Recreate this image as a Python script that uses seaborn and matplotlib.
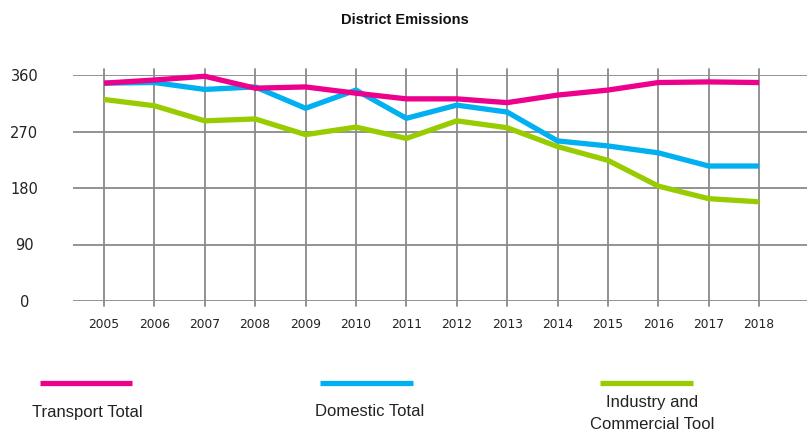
import matplotlib
matplotlib.use("Agg")
import matplotlib.pyplot as plt
from matplotlib.lines import Line2D
import pandas as pd
import seaborn as sns

years = [2005, 2006, 2007, 2008, 2009, 2010, 2011, 2012, 2013, 2014, 2015, 2016, 2017, 2018]
transport = [347, 352, 358, 339, 341, 331, 322, 322, 316, 328, 336, 348, 349, 348]
domestic = [347, 348, 337, 341, 307, 336, 291, 312, 301, 255, 247, 236, 215, 215]
industry = [321, 311, 287, 290, 265, 277, 259, 287, 276, 246, 224, 183, 163, 158]
series_names = ["Transport Total", "Domestic Total", "Industry and\nCommercial Tool"]
colors = ["#EC008C", "#00B0F0", "#99CC00"]
y_ticks = [0, 90, 180, 270, 360]

df = pd.DataFrame({
    "year": years * 3,
    "value": transport + domestic + industry,
    "series": [series_names[0]] * len(years) + [series_names[1]] * len(years) + [series_names[2]] * len(years),
})

sns.set_theme(style="white")
plt.rcParams["font.family"] = ["DejaVu Sans"]

W, H = 807, 433
fig = plt.figure(figsize=(W / 100, H / 100), dpi=100)
ax = fig.add_axes([73 / W, (H - 301) / H, 1 - 73 / W, 226 / H])

# grid first so the lines sit on top
for y in y_ticks:
    ax.axhline(y, color="#8a8a8a", lw=1.3, zorder=1)
for yr in years:
    ax.axvline(yr, ymin=-0.02, ymax=1.025, color="#8a8a8a", lw=1.3, zorder=1, clip_on=False)

sns.lineplot(data=df, x="year", y="value", hue="series", palette=colors,
             hue_order=series_names, linewidth=3.8, legend=False, ax=ax)
# transport on top, industry at the bottom
for ln, z in zip(ax.get_lines()[-3:], [5, 4, 3]):
    ln.set_zorder(z)
    ln.set_clip_on(False)
    ln.set_solid_capstyle("butt")

ax.set_xlim(2005 - 0.615, 2005 + 13.95)
ax.set_ylim(0, 360)
ax.set_xticks(years)
ax.set_xticklabels([str(y) for y in years], fontsize=8.8, color="#222222")
ax.set_yticks(y_ticks)
ax.set_yticklabels([str(v) for v in y_ticks], fontsize=10.5, color="#222222")
for lab in ax.get_yticklabels():
    lab.set_horizontalalignment("center")
ax.tick_params(axis="y", length=0, pad=35)
ax.tick_params(axis="x", length=0, pad=12)
ax.set_xlabel("")
ax.set_ylabel("")
for s in ax.spines.values():
    s.set_visible(False)
ax.grid(False)

fig.text(405 / W, 1 - 20 / H, "District Emissions", ha="center", va="center",
         fontsize=10.5, fontweight="bold", family=["Liberation Sans", "DejaVu Sans"], color="#111111")

# legend keys and labels underneath the plot
legend_font = ["Liberation Sans Narrow", "Liberation Sans", "DejaVu Sans"]
key_spans = [(40, 132), (320, 413), (600, 693)]
for (x0, x1), col in zip(key_spans, colors):
    fig.add_artist(Line2D([x0 / W, x1 / W], [1 - 383 / H] * 2, color=col, lw=3.8,
                          transform=fig.transFigure, solid_capstyle="butt"))
fig.text(87 / W, 1 - 412 / H, series_names[0], ha="center", va="center",
         fontsize=12, family=legend_font, color="#222222")
fig.text(370 / W, 1 - 412 / H, series_names[1], ha="center", va="center",
         fontsize=12, family=legend_font, color="#222222")
fig.text(652 / W, 1 - 395 / H, series_names[2], ha="center", va="top",
         fontsize=12, family=legend_font, color="#222222", linespacing=1.55)

fig.savefig("out.png", dpi=100)
